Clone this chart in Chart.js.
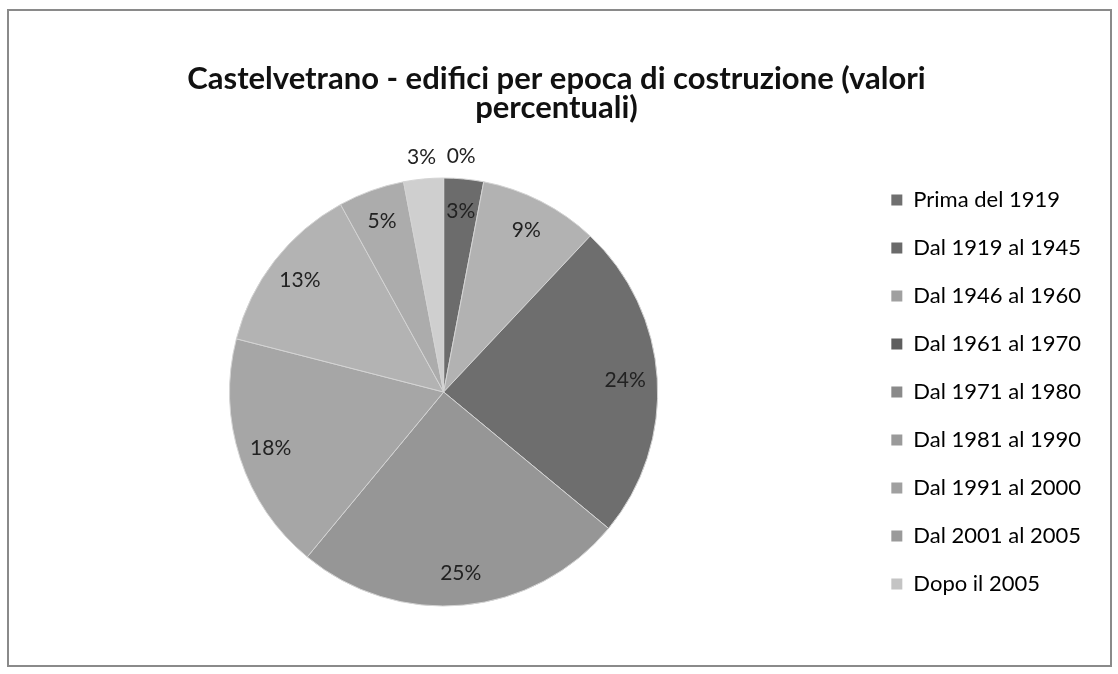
<!DOCTYPE html>
<html lang="it">
<head>
<meta charset="utf-8">
<title>Castelvetrano - edifici per epoca di costruzione</title>
<script src="https://cdn.jsdelivr.net/npm/chart.js@4.4.1/dist/chart.umd.min.js"></script>
<style>
  html, body { margin: 0; padding: 0; background: #ffffff; }
  #grafico { display: block; }
</style>
</head>
<body>
<canvas id="grafico" width="1118" height="674"></canvas>
<script>
// epoche di costruzione e quota percentuale degli edifici
const epoche = [
  'Prima del 1919',
  'Dal 1919 al 1945',
  'Dal 1946 al 1960',
  'Dal 1961 al 1970',
  'Dal 1971 al 1980',
  'Dal 1981 al 1990',
  'Dal 1991 al 2000',
  'Dal 2001 al 2005',
  'Dopo il 2005'
];
const quote = [3, 9, 24, 25, 18, 13, 5, 3, 0];

// colori delle fette e dei quadratini della legenda (scala di grigi)
const coloriFette = ['#6c6c6c', '#b2b2b2', '#6e6e6e', '#969696', '#a6a6a6', '#b3b3b3', '#acacac', '#cfcfcf', '#dedede'];
const coloriLegenda = ['#707070', '#6a6a6a', '#a0a0a0', '#5e5e5e', '#8a8a8a', '#9a9a9a', '#a0a0a0', '#9a9a9a', '#c4c4c4'];

// etichette messe fuori dalla torta (fette troppo strette in alto)
const etichettaFuori = [false, false, false, false, false, false, false, true, true];

// cornice grigia attorno al grafico
const cornice = {
  id: 'cornice',
  beforeDraw(chart) {
    const { ctx, width, height } = chart;
    ctx.save();
    ctx.fillStyle = '#ffffff';
    ctx.fillRect(0, 0, width, height);
    ctx.strokeStyle = '#8a8a8a';
    ctx.lineWidth = 2;
    ctx.strokeRect(8, 10, width - 15, height - 18);
    ctx.restore();
  }
};

// percentuali scritte sulle fette
const etichetteFette = {
  id: 'etichetteFette',
  afterDatasetsDraw(chart) {
    const { ctx } = chart;
    const meta = chart.getDatasetMeta(0);
    ctx.save();
    ctx.font = '21px Lato';
    ctx.fillStyle = '#222222';
    ctx.textBaseline = 'middle';
    meta.data.forEach((arc, i) => {
      const { x, y, startAngle, endAngle, outerRadius } = arc.getProps(['x', 'y', 'startAngle', 'endAngle', 'outerRadius'], true);
      const mid = (startAngle + endAngle) / 2;
      const r = etichettaFuori[i] ? outerRadius * 1.1 : outerRadius * 0.85;
      let px = x + Math.cos(mid) * r;
      const py = y + Math.sin(mid) * r;
      ctx.textAlign = 'center';
      if (quote[i] === 0) {
        // la fetta vuota finisce sullo stesso punto: scrivo a destra
        ctx.textAlign = 'left';
        px += 3;
      }
      ctx.fillText(quote[i] + '%', px, py);
    });
    ctx.restore();
  }
};

new Chart(document.getElementById('grafico'), {
  type: 'pie',
  data: {
    labels: epoche,
    datasets: [{
      data: quote,
      backgroundColor: coloriFette,
      borderColor: '#d4d4d4',
      borderWidth: 1,
      hoverOffset: 0
    }]
  },
  options: {
    responsive: false,
    devicePixelRatio: 1,
    animation: false,
    radius: 214,
    layout: {
      padding: { top: 48, left: 22, right: 27, bottom: 46 }
    },
    plugins: {
      title: {
        display: true,
        text: ['Castelvetrano - edifici per epoca di costruzione (valori', 'percentuali)'],
        color: '#111111',
        font: { family: 'Lato', size: 31, weight: 'bold', lineHeight: 0.92 },
        padding: { top: 17, bottom: 34 }
      },
      legend: {
        position: 'right',
        fullSize: false,
        labels: {
          color: '#222222',
          font: { family: 'Lato', size: 22 },
          boxWidth: 11,
          boxHeight: 11,
          padding: 26,
          generateLabels(chart) {
            return epoche.map((nome, i) => ({
              text: nome,
              fillStyle: coloriLegenda[i],
              strokeStyle: coloriLegenda[i],
              lineWidth: 0,
              hidden: false,
              index: i
            }));
          }
        }
      },
      tooltip: { enabled: false }
    }
  },
  plugins: [cornice, etichetteFette]
});
</script>
</body>
</html>
